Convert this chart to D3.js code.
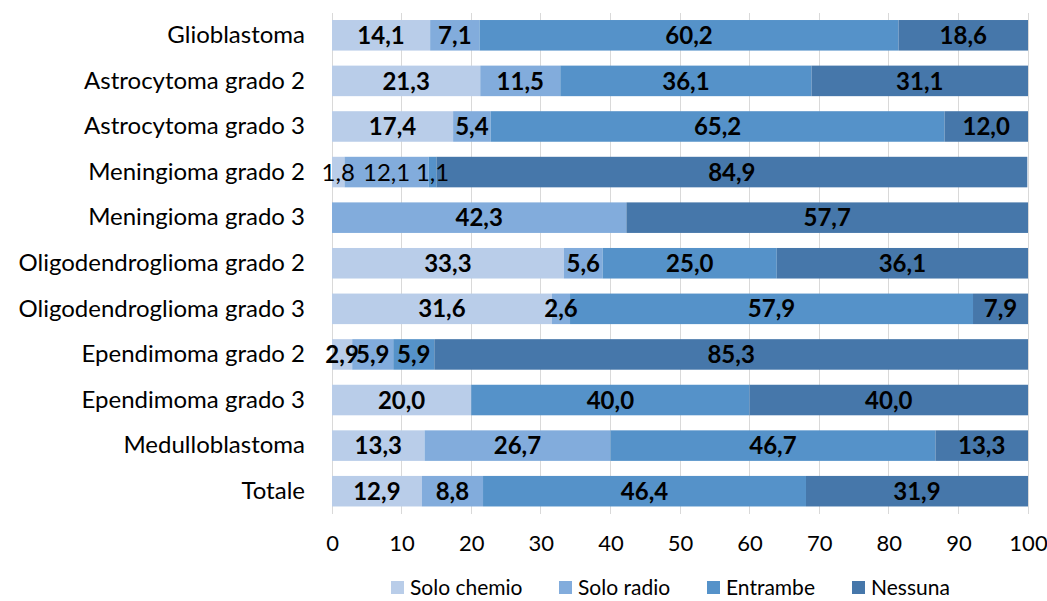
<!DOCTYPE html>
<html>
<head>
<meta charset="utf-8">
<script src="https://cdn.jsdelivr.net/npm/d3@7"></script>
<style>
  html, body { margin: 0; padding: 0; background: #fff; }
  svg { display: block; font-family: Lato, "Open Sans", sans-serif; }
</style>
</head>
<body>
<svg id="chart" width="1047" height="601"></svg>
<script>
// Tumour types, top to bottom
const categories = [
  "Glioblastoma", "Astrocytoma grado 2", "Astrocytoma grado 3",
  "Meningioma grado 2", "Meningioma grado 3", "Oligodendroglioma grado 2",
  "Oligodendroglioma grado 3", "Ependimoma grado 2", "Ependimoma grado 3",
  "Medulloblastoma", "Totale"
];

// Treatment groups (stack order, left to right)
const seriesNames = ["Solo chemio", "Solo radio", "Entrambe", "Nessuna"];

// Percentages per tumour type, one array per treatment group
const soloChemio = [14.1, 21.3, 17.4, 1.8, 0, 33.3, 31.6, 2.9, 20.0, 13.3, 12.9];
const soloRadio  = [7.1, 11.5, 5.4, 12.1, 42.3, 5.6, 2.6, 5.9, 0, 26.7, 8.8];
const entrambe   = [60.2, 36.1, 65.2, 1.1, 0, 25.0, 57.9, 5.9, 40.0, 46.7, 46.4];
const nessuna    = [18.6, 31.1, 12.0, 84.9, 57.7, 36.1, 7.9, 85.3, 40.0, 13.3, 31.9];

const xTicks = [0, 10, 20, 30, 40, 50, 60, 70, 80, 90, 100];

const colors = ["#b9cde9", "#82acdc", "#5592c9", "#4677aa"];

// Rows whose small-segment value labels are set in regular weight
const lightLabelRows = ["Meningioma grado 2"];

const rows = categories.map((c, i) => ({
  cat: c,
  "Solo chemio": soloChemio[i],
  "Solo radio": soloRadio[i],
  "Entrambe": entrambe[i],
  "Nessuna": nessuna[i]
}));

const svg = d3.select("#chart");
const margin = { left: 332, right: 19, top: 12.5, bottom: 87 };
const W = 1047, H = 601;
const FS = 24;

const x = d3.scaleLinear().domain([0, 100]).range([margin.left, W - margin.right]);
const y = d3.scaleBand().domain(categories)
  .range([margin.top, H - margin.bottom]).paddingInner(0.33).paddingOuter(0.165);

// vertical gridlines
svg.append("g").selectAll("line").data(xTicks).join("line")
  .attr("x1", d => x(d)).attr("x2", d => x(d))
  .attr("y1", margin.top).attr("y2", H - margin.bottom)
  .attr("stroke", "#d9d9d9").attr("stroke-width", 1)
  .attr("shape-rendering", "crispEdges");

const stacked = d3.stack().keys(seriesNames)(rows);

const layers = svg.append("g").selectAll("g").data(stacked).join("g")
  .attr("fill", (d, i) => colors[i]);

layers.selectAll("rect").data(d => d.map(p => ({ p, key: d.key }))).join("rect")
  .attr("x", d => x(d.p[0]))
  .attr("width", d => x(d.p[1]) - x(d.p[0]))
  .attr("y", d => y(d.p.data.cat))
  .attr("height", y.bandwidth());

// value labels
const fmt = v => v.toFixed(1).replace(".", ",");
const labels = svg.append("g");
stacked.forEach(layer => {
  layer.forEach(p => {
    const v = p.data[layer.key];
    if (!v) return;
    labels.append("text")
      .attr("x", x((p[0] + p[1]) / 2))
      .attr("y", y(p.data.cat) + y.bandwidth() / 2)
      .attr("dy", "0.36em")
      .attr("text-anchor", "middle")
      .attr("font-size", FS)
      .attr("font-weight", lightLabelRows.includes(p.data.cat) && layer.key !== "Nessuna" ? 400 : 700)
      .attr("fill", "#000")
      .text(fmt(v));
  });
});

// category axis
const yAxis = svg.append("g")
  .attr("transform", `translate(${margin.left},0)`)
  .call(d3.axisLeft(y).tickSize(0).tickPadding(27));
yAxis.select(".domain").remove();
yAxis.selectAll("text").attr("font-size", FS).attr("fill", "#000")
  .attr("font-family", "Lato, sans-serif");

// value axis
const xAxis = svg.append("g")
  .attr("transform", `translate(0,${H - margin.bottom})`)
  .call(d3.axisBottom(x).tickValues(xTicks).tickSize(0).tickPadding(21));
xAxis.select(".domain").remove();
xAxis.selectAll("text").attr("font-size", 22).attr("fill", "#000")
  .attr("font-family", "Lato, sans-serif");

// legend
const legendX = [391, 559, 707, 852];
const legend = svg.append("g");
seriesNames.forEach((s, i) => {
  const g = legend.append("g").attr("transform", `translate(${legendX[i]},587)`);
  g.append("rect").attr("x", 0).attr("y", -6).attr("width", 13).attr("height", 13)
    .attr("fill", colors[i]);
  g.append("text").attr("x", 19).attr("dy", "0.36em")
    .attr("font-size", 21).attr("fill", "#000").text(s);
});
</script>
</body>
</html>
